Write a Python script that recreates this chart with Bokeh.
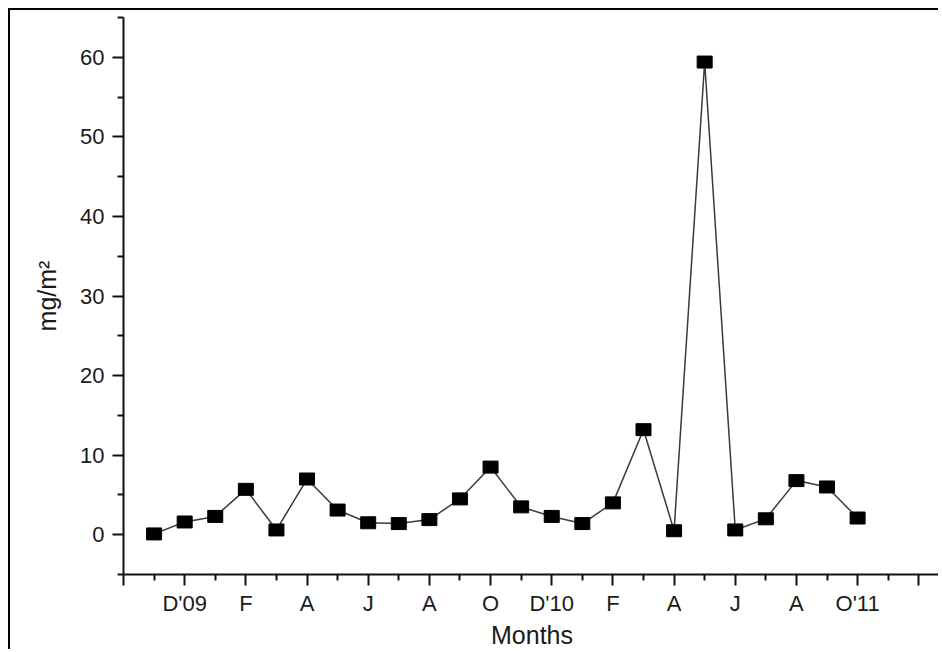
from bokeh.plotting import figure
from bokeh.models import Range1d, FixedTicker, ColumnDataSource
from bokeh.embed import file_html
from bokeh.resources import INLINE

months = ["N", "D'09", "J", "F", "M", "A", "M", "J", "J", "A", "S", "O",
          "N", "D'10", "J", "F", "M", "A", "M", "J", "J", "A", "S", "O'11"]
values = [0.1, 1.6, 2.3, 5.7, 0.6, 7.0, 3.1, 1.5, 1.4, 1.9, 4.5, 8.5,
          3.5, 2.3, 1.4, 4.0, 13.2, 0.5, 59.4, 0.6, 2.0, 6.8, 6.0, 2.1]
tick_positions = [2, 4, 6, 8, 10, 12, 14, 16, 18, 20, 22, 24]
tick_labels = ["D'09", "F", "A", "J", "A", "O", "D'10", "F", "A", "J", "A", "O'11"]
y_ticks = [0, 10, 20, 30, 40, 50, 60]

xpos = list(range(1, len(months) + 1))
src = ColumnDataSource(dict(x=xpos, y=values, m=months))

FONT = "Liberation Sans"

p = figure(width=930, height=641, output_backend="svg", toolbar_location=None,
           x_range=Range1d(0, 26.71), y_range=Range1d(-5, 65),
           min_border_left=113, min_border_top=7, min_border_right=0,
           min_border_bottom=77,
           styles={"margin-left": "8px", "margin-top": "8px",
                   "border-top": "2px solid black", "border-left": "2px solid black"})
p.outline_line_color = None
p.xgrid.visible = False
p.ygrid.visible = False

p.line("x", "y", source=src, line_color="#3a3a3a", line_width=1.5)
p.rect("x", "y", width=15, height=12, width_units="screen", height_units="screen",
       source=src, fill_color="black", line_color="black")

major_x = [0] + tick_positions + [26]
p.xaxis.ticker = FixedTicker(ticks=major_x, minor_ticks=[t + 1 for t in major_x[:-1]])
overrides = {t: l for t, l in zip(tick_positions, tick_labels)}
overrides[0] = ""
overrides[26] = ""
p.xaxis.major_label_overrides = overrides
p.yaxis.ticker = FixedTicker(ticks=y_ticks, minor_ticks=[-5, 5, 15, 25, 35, 45, 55, 65])

for ax in (p.xaxis[0], p.yaxis[0]):
    ax.axis_line_width = 2
    ax.axis_line_color = "#111111"
    ax.major_tick_line_width = 2
    ax.minor_tick_line_width = 2
    ax.major_tick_line_color = "#111111"
    ax.minor_tick_line_color = "#111111"
    ax.major_tick_in = 0
    ax.major_tick_out = 11
    ax.minor_tick_in = 0
    ax.minor_tick_out = 6
    ax.major_label_text_font = FONT
    ax.major_label_text_font_size = "22px"
    ax.major_label_text_color = "#1a1a1a"
    ax.axis_label_text_font = FONT
    ax.axis_label_text_font_size = "25px"
    ax.axis_label_text_font_style = "normal"
    ax.axis_label_text_color = "#1a1a1a"

p.xaxis.axis_label = "Months"
p.xaxis.major_label_standoff = 5
p.xaxis.axis_label_standoff = 2
p.yaxis.axis_label = "mg/m²"
p.yaxis.major_label_standoff = 8
p.yaxis.axis_label_standoff = 16

open("out.html", "w").write(file_html(p, INLINE))
